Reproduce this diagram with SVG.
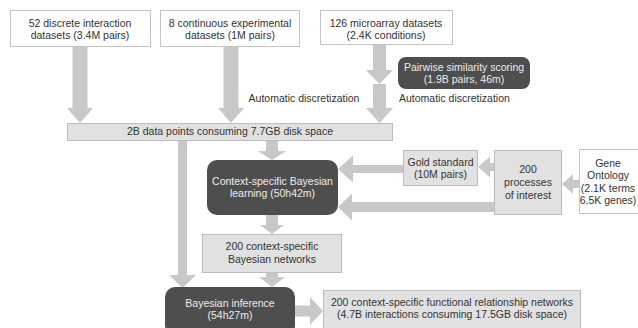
<svg xmlns="http://www.w3.org/2000/svg" width="638" height="328" viewBox="0 0 638 328">
<style>
.arr{fill:#c8c8c8}
.wbox{fill:#ffffff;stroke:#c4c4c4;stroke-width:1}
.lbox{fill:#e1e1e1;stroke:#bdbdbd;stroke-width:1}
.dbox{fill:#4e4e4e;stroke:none}
text{font-family:"Liberation Sans",Arial,sans-serif;font-size:10.5px;text-anchor:middle;fill:#333}
.dt{fill:#ececec}
.lt{text-anchor:start}
</style>
<rect width="638" height="328" fill="#ffffff"/>
<g id="connectors">
<polygon class="arr" points="72.5,47 87.5,47 87.5,108 93,108 80,123 67,108 72.5,108"/>
<polygon class="arr" points="223.5,47 238.5,47 238.5,108 244,108 231,123 218,108 223.5,108"/>
<polygon class="arr" points="373,45 386,45 386,70 393,70 379.5,84 366,70 373,70"/>
<polygon class="arr" points="373,84 386,84 386,108 393,108 379.5,123 366,108 373,108"/>
<polygon class="arr" points="266,141 278,141 278,151 286,151 272,160 258,151 266,151"/>
<polygon class="arr" points="178,141 187,141 187,275 196,275 182.5,288 169,275 178,275"/>
<polygon class="arr" points="266,215 278,215 278,225 284,225 272,234 260,225 266,225"/>
<polygon class="arr" points="266,273 278,273 278,277 285,277 272,287 259,277 266,277"/>
<polygon class="arr" points="403,165 403,173 353,173 353,182.5 338,169 353,155.5 353,165"/>
<polygon class="arr" points="494,163 494,171 490,171 490,177.5 478,167 490,156.5 490,163"/>
<polygon class="arr" points="494,202 494,212 352,212 352,220.5 338,207 352,193.5 352,202"/>
<polygon class="arr" points="579,180 579,188 573,188 573,194 562,184 573,174 573,180"/>
<polygon class="arr" points="295,305.5 310,305.5 310,297 323,311 310,325 310,316.5 295,316.5"/>
<text x="304" y="102">Automatic discretization</text>
<text x="399" y="102" class="lt">Automatic discretization</text>
</g>
<g id="n1"><rect class="wbox" x="10.5" y="10.5" width="140" height="36"/><text x="80" y="27">52 discrete interaction</text><text x="80" y="39">datasets (3.4M pairs)</text></g>
<g id="n2"><rect class="wbox" x="160.5" y="10.5" width="139" height="36"/><text x="230" y="27">8 continuous experimental</text><text x="230" y="39">datasets (1M pairs)</text></g>
<g id="n3"><rect class="wbox" x="320.5" y="10.5" width="132" height="34"/><text x="386" y="27">126 microarray datasets</text><text x="386" y="39">(2.4K conditions)</text></g>
<g id="n4"><rect class="dbox" x="398" y="57" width="132" height="32" rx="8"/><text class="dt" x="464" y="71">Pairwise similarity scoring</text><text class="dt" x="464" y="83">(1.9B pairs, 46m)</text></g>
<g id="n5"><rect class="lbox" x="67.5" y="123.5" width="325" height="17"/><text x="230" y="135">2B data points consuming 7.7GB disk space</text></g>
<g id="n6"><rect class="dbox" x="207" y="160" width="131" height="55" rx="10"/><text class="dt" x="272.5" y="185">Context-specific Bayesian</text><text class="dt" x="272.5" y="197">learning (50h42m)</text></g>
<g id="n7"><rect class="lbox" x="403.5" y="150.5" width="74" height="35"/><text x="440.5" y="166">Gold standard</text><text x="440.5" y="178">(10M pairs)</text></g>
<g id="n8"><rect class="lbox" x="494.5" y="150.5" width="67" height="64"/><text x="528" y="173">200</text><text x="528" y="186">processes</text><text x="528" y="199">of interest</text></g>
<g id="n9"><rect class="wbox" x="579.5" y="149.5" width="70" height="64"/><text x="608" y="167">Gene</text><text x="608" y="179">Ontology</text><text x="608" y="192">(2.1K terms</text><text x="608" y="204">6.5K genes)</text></g>
<g id="n10"><rect class="lbox" x="202.5" y="234.5" width="139" height="38"/><text x="272" y="250">200 context-specific</text><text x="272" y="263">Bayesian networks</text></g>
<g id="n11"><rect class="dbox" x="165" y="287" width="130" height="48" rx="10"/><text class="dt" x="230" y="307">Bayesian inference</text><text class="dt" x="230" y="319">(54h27m)</text></g>
<g id="n12"><rect class="lbox" x="323.5" y="290.5" width="257" height="40"/><text x="452" y="306">200 context-specific functional relationship networks</text><text x="452" y="318">(4.7B interactions consuming 17.5GB disk space)</text></g>
</svg>
